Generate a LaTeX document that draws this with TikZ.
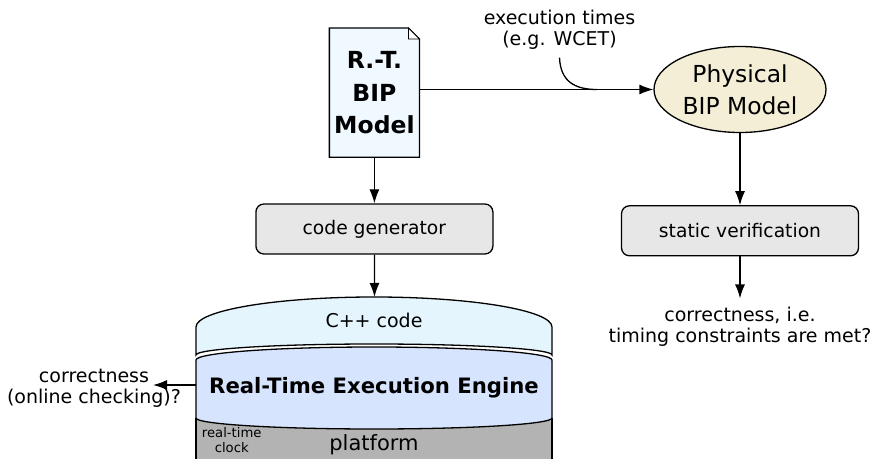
\documentclass[tikz,border=0pt]{standalone}
\usepackage{fontspec}
\setmainfont{DejaVu Sans}
\usepackage{xcolor}
\usetikzlibrary{arrows.meta,positioning,shapes.geometric}
\definecolor{docfill}{HTML}{EFF9FF}
\definecolor{cppfill}{HTML}{E4F5FD}
\definecolor{rtefill}{HTML}{D6E5FD}
\definecolor{platfill}{HTML}{B3B3B3}
\definecolor{modfill}{HTML}{F4EED6}
\definecolor{toolfill}{HTML}{E7E7E7}

\begin{document}
\begin{tikzpicture}[x=0.5pt,y=-0.5pt,
    toolbox/.style={draw,rounded corners=4pt,minimum width=118.5pt,minimum height=25pt,fill=toolfill,font=\fontsize{9.35}{10.5}\selectfont},
    modelnode/.style={ellipse,draw,fill=modfill,minimum width=86pt,minimum height=43pt,inner sep=0pt,align=center,font=\fontsize{11.7}{16.2}\selectfont},
    docnode/.style={minimum width=44.4pt,minimum height=64pt,inner sep=0pt,align=center,font=\bfseries\fontsize{11.75}{16.25}\selectfont},
    notetext/.style={align=center,inner sep=0pt,font=\fontsize{9.5}{10.3}\selectfont},
    >={Latex[length=7pt,width=5pt]},
    line width=0.65pt
  ]
    \useasboundingbox (0,0) rectangle (877,459);

    % models and tools
    \node[docnode] (doc) at (374.4,92.7) {R.-T.\\BIP\\Model};
    \node[modelnode] (mod) at (740,89.5) {Physical\\BIP Model};
    \node[toolbox,below=23pt of doc] (gen) {code generator};
    \node[toolbox,below=36pt of mod] (ver) {static verification};
    \node[notetext,below=25pt of ver] (res) {correctness, i.e.\\timing constraints are met?};
    \node[notetext] (exec) at (559.5,29.5) {execution times\\(e.g. WCET)};

    % document outline with folded corner
    \filldraw[fill=docfill] (doc.south west) |- ([xshift=-5.5pt]doc.north east)
      -- ([yshift=-5.5pt]doc.north east) |- cycle;
    \filldraw[fill=white,line width=0.4pt] ([xshift=-5.5pt]doc.north east) |- ([yshift=-5.5pt]doc.north east) -- cycle;
    \node[docnode] at (doc) {R.-T.\\BIP\\Model};

    % execution stack
    \fill[platfill] (196,418) arc[start angle=180,end angle=0,x radius=178,y radius=11]
      -- (552,461) -- (196,461) -- cycle;
    \draw (196,418) -- (196,461) (552,418) -- (552,461);
    \filldraw[fill=rtefill] (196,360) arc[start angle=180,end angle=360,x radius=178,y radius=13]
      -- (552,418) arc[start angle=0,end angle=180,x radius=178,y radius=11] -- cycle;
    \filldraw[fill=cppfill] (196,327) arc[start angle=180,end angle=360,x radius=178,y radius=30]
      -- (552,355) arc[start angle=0,end angle=-180,x radius=178,y radius=11] -- cycle;
    \node[notetext] (cpp) at (374,320) {C++ code};
    \node[notetext,font=\bfseries\fontsize{10.6}{12}\selectfont] (rte) at (374,388) {Real-Time Execution Engine};
    \node[notetext,font=\fontsize{10.5}{12}\selectfont] (plat) at (374,445) {platform};
    \node[notetext,font=\fontsize{6.6}{7.5}\selectfont] (clk) at (231.7,440.5) {real-time\\clock};
    \node[notetext] (chktext) at (94,388.5) {correctness\\(online checking)?};

    \coordinate (stacktop) at (374.5,297);
    \coordinate (stackwest) at (196,385);
    \coordinate (chk) at (153,385);
    \coordinate (hit) at (597,89.5);

    \draw[->] (doc.east |- mod) -- (mod);
    \draw ([yshift=-4pt]exec.south) .. controls +(1,24) and +(-22,0) .. (hit);
    \draw[->] (doc) -- (gen);
    \draw[->] (mod) -- (ver);
    \draw[->,shorten >=4pt] (ver) -- (res);
    \draw[->] (gen) -- (stacktop);
    \draw[->] (stackwest) -- (chk);
  \end{tikzpicture}
\end{document}
